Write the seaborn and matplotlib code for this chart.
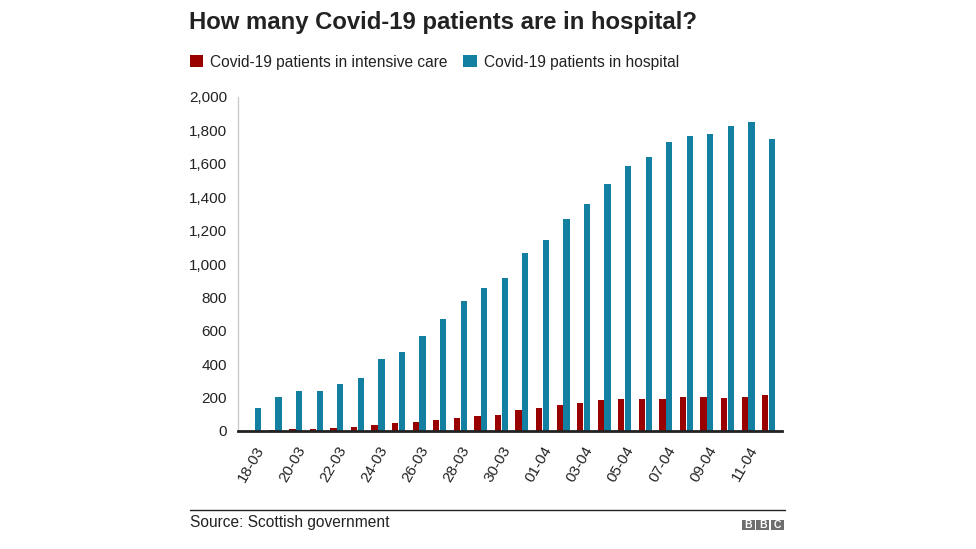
import matplotlib
matplotlib.use("Agg")
import matplotlib.pyplot as plt
import seaborn as sns
import pandas as pd
import numpy as np
from matplotlib.patches import Patch, Rectangle

dates = ['18-03', '19-03', '20-03', '21-03', '22-03', '23-03', '24-03', '25-03',
         '26-03', '27-03', '28-03', '29-03', '30-03', '31-03', '01-04', '02-04',
         '03-04', '04-04', '05-04', '06-04', '07-04', '08-04', '09-04', '10-04',
         '11-04', '12-04']
intensive_care = [0, 7, 11, 11, 17, 23, 33, 45, 51, 63, 75, 87, 97, 127, 139, 157,
                  169, 187, 193, 193, 193, 205, 205, 199, 205, 217]
hospital = [139, 203, 239, 239, 280, 320, 432, 475, 567, 668, 778, 854, 918, 1065,
            1146, 1270, 1358, 1479, 1585, 1638, 1728, 1767, 1779, 1827, 1849, 1749]
series_names = ['Covid-19 patients in intensive care', 'Covid-19 patients in hospital']
colors = ['#990000', '#1380A1']
y_ticks = [0, 200, 400, 600, 800, 1000, 1200, 1400, 1600, 1800, 2000]

df = pd.DataFrame({
    'date': dates * 2,
    'value': intensive_care + hospital,
    'series': [series_names[0]] * len(dates) + [series_names[1]] * len(dates),
})

sns.set_theme(style='white')
plt.rcParams['font.family'] = ['Liberation Sans', 'DejaVu Sans']

W, H = 976, 549
fig = plt.figure(figsize=(9.76, 5.49), dpi=100)
ax = fig.add_axes([238 / W, 1 - 431 / H, (782 - 238) / W, (431 - 97) / H])

sns.barplot(data=df, x='date', y='value', hue='series', order=dates,
            hue_order=series_names, palette=colors, width=0.66, gap=0.08,
            linewidth=0, saturation=1, ax=ax, legend=False)

ax.set_ylim(0, 2000)
ax.set_xlim(-0.81, 25.65)
ax.set_yticks(y_ticks)
ax.set_yticklabels([f'{v:,}' for v in y_ticks], fontsize=11, color='#222222')
ax.set_xticks(range(0, len(dates), 2))
ax.set_xticklabels(dates[::2], rotation=60, ha='right', rotation_mode='anchor',
                   fontsize=11, color='#222222')
ax.tick_params(axis='y', length=0, pad=8)
ax.tick_params(axis='x', length=0, pad=9)
ax.set_xlabel('')
ax.set_ylabel('')
ax.grid(False)
for side in ['top', 'right']:
    ax.spines[side].set_visible(False)
ax.spines['left'].set_color('#cccccc')
ax.spines['left'].set_linewidth(1)
ax.spines['bottom'].set_color('#222222')
ax.spines['bottom'].set_linewidth(2)

fig.text(189 / W, 1 - 22 / H, 'How many Covid-19 patients are in hospital?',
         fontsize=17.2, fontweight='bold', color='#222222', va='center', ha='left')

handles = [Patch(facecolor=c, edgecolor='none') for c in colors]
fig.legend(handles, series_names, loc='center left',
           bbox_to_anchor=(176 / W, 1 - 62 / H), ncol=2, frameon=False,
           fontsize=11.2, handlelength=0.85, handleheight=0.85, handletextpad=0.45,
           columnspacing=1.0, labelcolor='#222222')

fig.add_artist(plt.Line2D([190 / W, 785 / W], [1 - 510 / H, 1 - 510 / H],
                          color='#222222', linewidth=1, transform=fig.transFigure))
fig.text(190 / W, 1 - 523 / H, 'Source: Scottish government', fontsize=11.2,
         color='#222222', va='center', ha='left')
for i, letter in enumerate('BBC'):
    x0 = 742 + i * 14.4
    fig.add_artist(Rectangle((x0 / W, 1 - 530 / H), 13 / W, 10 / H,
                             facecolor='#6e6e6e', edgecolor='none',
                             transform=fig.transFigure))
    fig.text((x0 + 6.5) / W, 1 - 525 / H, letter, fontsize=7.5, fontweight='bold',
             color='white', ha='center', va='center')

fig.savefig('out.png', dpi=100, facecolor='white')
